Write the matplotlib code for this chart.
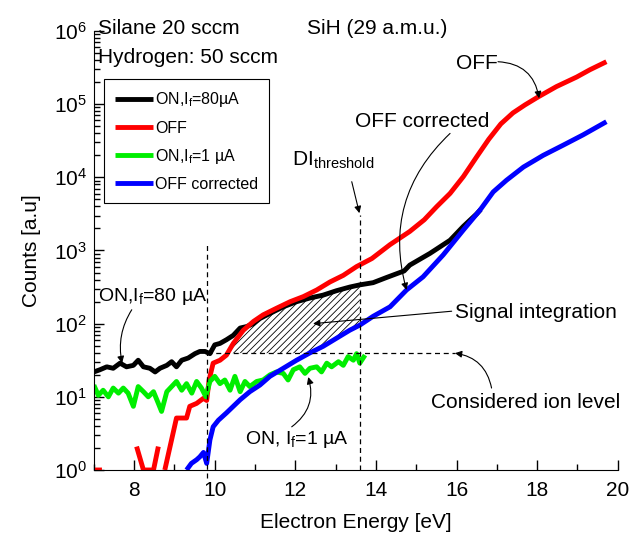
import numpy as np
import matplotlib
matplotlib.use("Agg")
import matplotlib.pyplot as plt

plt.rcParams['font.family'] = ['Liberation Sans', 'DejaVu Sans']
plt.rcParams['mathtext.default'] = 'regular'
plt.rcParams['hatch.linewidth'] = 0.6

# Data: energy [eV] and log10(counts)
black_x = [7.0, 7.15, 7.32, 7.48, 7.65, 7.81, 7.98, 8.1, 8.23, 8.39, 8.52, 8.64, 8.81, 8.93,
           9.05, 9.18, 9.34, 9.51, 9.63, 9.76, 9.88, 10.0, 10.13, 10.29, 10.46, 10.63, 10.79,
           10.96, 11.12, 11.37, 11.7, 12.03, 12.36, 12.69, 13.02, 13.35, 13.6, 13.93, 14.26,
           14.6, 14.7, 14.84, 15.34, 15.84, 16.17, 16.5, 16.6]
black_log = [1.34, 1.37, 1.41, 1.39, 1.46, 1.41, 1.43, 1.50, 1.41, 1.39, 1.34, 1.39, 1.43, 1.48,
             1.41, 1.50, 1.53, 1.59, 1.62, 1.62, 1.59, 1.71, 1.73, 1.78, 1.84, 1.94, 1.96,
             2.00, 2.07, 2.14, 2.23, 2.30, 2.35, 2.39, 2.45, 2.50, 2.53, 2.56, 2.63,
             2.70, 2.72, 2.80, 2.96, 3.14, 3.33, 3.50, 3.56]

red_x = [7.0, 7.2, np.nan, 8.06, 8.23, 8.48, 8.60, np.nan, 8.76, 9.05, 9.30, 9.38, 9.55, 9.72,
         9.80, 9.86, 9.96, 10.13, 10.29, 10.46, 10.71, 10.96, 11.2, 11.53, 11.87, 12.2, 12.53,
         12.86, 13.19, 13.52, 13.9, 14.35, 14.84, 15.2, 15.51, 15.84, 16.17, 16.5, 16.8, 17.1,
         17.4, 17.7, 18.03, 18.48, 18.98, 19.31, 19.72]
red_log = [0.0, 0.0, np.nan, 0.32, 0.0, 0.0, 0.32, np.nan, 0.0, 0.71, 0.71, 0.87, 0.91, 0.98,
           0.95, 1.23, 1.46, 1.50, 1.57, 1.73, 1.91, 2.03, 2.12, 2.21, 2.30, 2.37, 2.46,
           2.57, 2.66, 2.78, 2.89, 3.08, 3.26, 3.42, 3.60, 3.78, 4.01, 4.28, 4.52, 4.73,
           4.88, 4.99, 5.10, 5.24, 5.37, 5.47, 5.58]

green_x = [7.0, 7.11, 7.23, 7.36, 7.48, 7.61, 7.73, 7.85, 7.98, 8.1, 8.23, 8.35, 8.48, 8.6,
           8.68, 8.81, 8.93, 9.05, 9.18, 9.3, 9.43, 9.55, 9.67, 9.78, 9.88, 10.0, 10.13, 10.25,
           10.38, 10.5, 10.63, 10.75, 10.87, 11.04, 11.2, 11.37, 11.53, 11.7, 11.82, 11.95,
           12.11, 12.24, 12.36, 12.53, 12.65, 12.78, 12.9, 13.07, 13.19, 13.31, 13.44, 13.52,
           13.6, 13.73]
green_log = [1.16, 1.02, 1.09, 1.00, 1.12, 1.05, 1.12, 1.05, 0.87, 1.14, 1.07, 1.00, 1.07, 0.91,
             0.80, 1.07, 1.14, 1.21, 1.09, 1.18, 1.05, 1.21, 1.12, 1.00, 1.21, 1.28, 1.18, 1.23,
             1.09, 1.28, 1.07, 1.21, 1.14, 1.21, 1.23, 1.30, 1.34, 1.32, 1.23, 1.37,
             1.41, 1.32, 1.39, 1.41, 1.34, 1.46, 1.41, 1.48, 1.43, 1.55, 1.50, 1.59,
             1.46, 1.57]

blue_x = [9.30, 9.42, 9.55, 9.63, 9.72, 9.80, 9.88, 9.96, 10.09, 10.29, 10.46, 10.63, 10.87,
          11.12, 11.37, 11.7, 12.03, 12.36, 12.69, 13.02, 13.35, 13.6, 13.93, 14.35, 14.76,
          15.17, 15.67, 16.17, 16.58, 16.91, 17.24, 17.66, 18.15, 18.65, 19.14, 19.72]
blue_log = [0.0, 0.09, 0.14, 0.18, 0.24, 0.09, 0.41, 0.59, 0.68, 0.78, 0.87, 0.96, 1.07,
            1.16, 1.28, 1.39, 1.50, 1.60, 1.69, 1.80, 1.91, 1.98, 2.10, 2.23, 2.46,
            2.64, 2.94, 3.28, 3.55, 3.80, 3.96, 4.14, 4.30, 4.44, 4.58, 4.76]

ion_level = 39.5
di_start, di_threshold = 9.82, 13.6

fig = plt.figure(figsize=(6.36, 5.37), dpi=100)
ax = fig.add_axes([0.1476, 0.1248, 0.8236, 0.8175])

# hatched integration area: under the ON curve, above ion level / OFF corrected
red_ok = [i for i, x in enumerate(red_x) if x == x and x > 9.0]
hx = np.array([x for x in black_x if di_start + 0.03 <= x <= di_threshold])
top = np.minimum(10 ** np.interp(hx, black_x, black_log),
                 10 ** np.interp(hx, [red_x[i] for i in red_ok], [red_log[i] for i in red_ok]))
bottom = np.maximum(ion_level, 10 ** np.interp(hx, blue_x, blue_log))
ax.fill_between(hx, bottom, top, where=top > bottom, facecolor='none', edgecolor='black',
                hatch='/////', linewidth=0, interpolate=True)

line_kw = dict(lw=3.5, solid_joinstyle='round', solid_capstyle='butt')
ax.plot(black_x, 10 ** np.array(black_log), color='black', label='ON,I$_f$=80µA', **line_kw)
ax.plot(red_x, 10 ** np.array(red_log), color='#ff0000', label='OFF', **line_kw)
ax.plot(green_x, 10 ** np.array(green_log), color='#00ee00', label='ON,I$_f$=1 µA', **line_kw)
ax.plot(blue_x, 10 ** np.array(blue_log), color='#0000ff', label='OFF corrected', **line_kw)

# dashed guides
dash = dict(color='black', lw=0.9, ls=(0, (4, 3)))
ax.plot([di_start, di_start], [0.78, 10 ** 3.1], clip_on=False, **dash)
ax.plot([di_threshold, di_threshold], [1, 10 ** 3.48], **dash)
ax.plot([di_start, 15.96], [ion_level, ion_level], **dash)

ax.set_yscale('log')
ax.set_xlim(7, 20)
ax.set_ylim(1, 1e6)
ax.set_xticks(range(8, 21, 2))
ax.set_xticks(range(7, 21), minor=True)
ax.spines['top'].set_visible(False)
ax.spines['right'].set_visible(False)
ax.tick_params(which='both', direction='in', labelsize=15, width=1)
ax.tick_params(which='major', length=7)
ax.tick_params(which='minor', length=4)
ax.tick_params(axis='x', which='major', pad=8)
ax.tick_params(axis='y', which='major', pad=5)
ax.set_xlabel('Electron Energy [eV]', fontsize=15, labelpad=9)
ax.set_ylabel('Counts [a.u]', fontsize=15, labelpad=9)

fig.text(0.1546, 0.947, 'Silane 20 sccm', fontsize=15, va='center')
fig.text(0.1546, 0.8933, 'Hydrogen: 50 sccm', fontsize=15, va='center')
fig.text(0.4822, 0.947, 'SiH (29 a.m.u.)', fontsize=15, va='center')

leg = ax.legend(loc='upper left', bbox_to_anchor=(0.1635, 0.8523), bbox_transform=fig.transFigure,
                borderaxespad=0, fontsize=11.5, handlelength=2.4, handletextpad=0.1,
                labelspacing=0.7, fancybox=False, framealpha=1, edgecolor='black',
                borderpad=0.7)
leg.get_frame().set_linewidth(0.8)

arrow = dict(arrowstyle='-|>', color='black', lw=0.8, mutation_scale=10, shrinkA=0, shrinkB=0)

ax.text(8.47, 10 ** 2.37, 'ON,I$_f$=80 µA', fontsize=14, ha='center', va='center')
ax.annotate('', xy=(7.70, 10 ** 1.46), xytext=(7.94, 10 ** 2.19),
            arrowprops=dict(connectionstyle='arc3,rad=0.2', **arrow))

ax.text(12.05, 10 ** 0.41, 'ON, I$_f$=1 µA', fontsize=14, ha='center', va='center')
ax.annotate('', xy=(12.32, 10 ** 1.27), xytext=(11.91, 10 ** 0.59),
            arrowprops=dict(connectionstyle='arc3,rad=0.35', **arrow))

ax.text(11.91, 10 ** 4.23, 'DI$_{threshold}$', fontsize=15, ha='left', va='center')
ax.annotate('', xy=(13.59, 10 ** 3.51), xytext=(13.40, 10 ** 3.94), arrowprops=arrow)

ax.text(15.15, 10 ** 4.76, 'OFF corrected', fontsize=15, ha='center', va='center')
ax.annotate('', xy=(14.76, 10 ** 2.46), xytext=(15.84, 10 ** 4.60),
            arrowprops=dict(connectionstyle='arc3,rad=0.3', **arrow))

ax.text(16.5, 10 ** 5.56, 'OFF', fontsize=15, ha='center', va='center')
ax.annotate('', xy=(18.05, 10 ** 5.08), xytext=(17.03, 10 ** 5.58),
            arrowprops=dict(connectionstyle='arc3,rad=-0.4', **arrow))

ax.text(15.96, 10 ** 2.15, 'Signal integration', fontsize=15, ha='left', va='center')
ax.annotate('', xy=(12.44, 10 ** 2.0), xytext=(15.88, 10 ** 2.17), arrowprops=arrow)

ax.text(17.72, 10 ** 0.92, 'Considered ion level', fontsize=15, ha='center', va='center')
ax.annotate('', xy=(15.96, ion_level), xytext=(16.87, 10 ** 1.12),
            arrowprops=dict(connectionstyle='arc3,rad=0.35', **arrow))

fig.savefig('out.png', dpi=100)
